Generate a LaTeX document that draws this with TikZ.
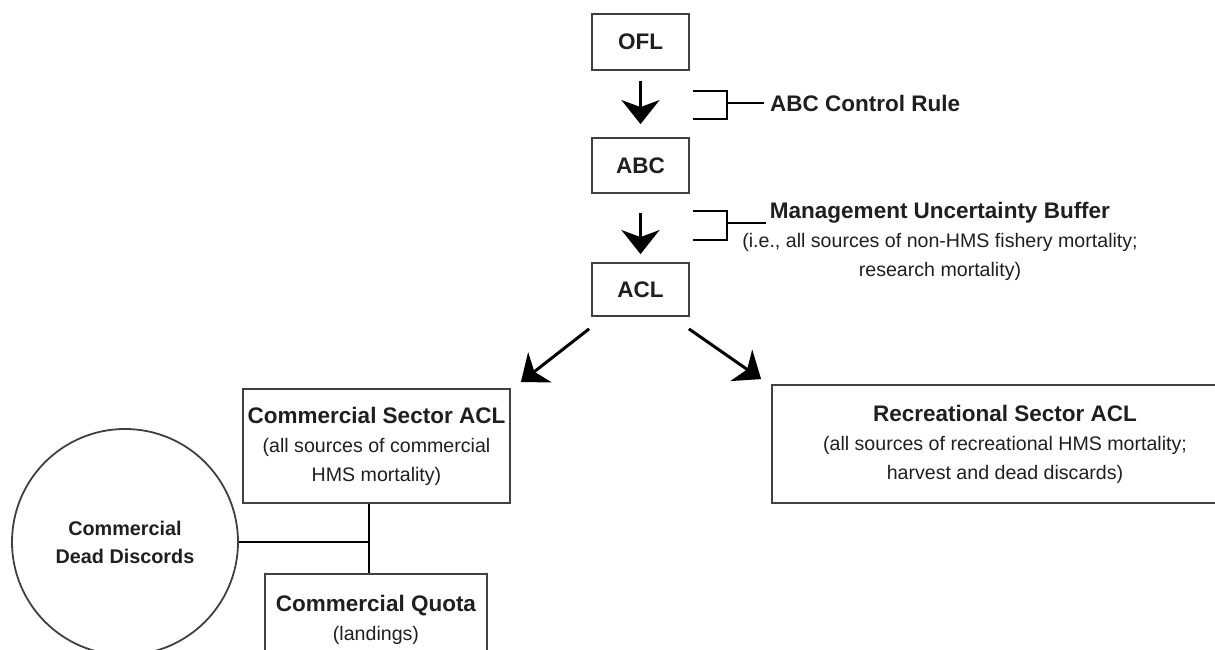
\documentclass[tikz,border=0pt]{standalone}
\usepackage{fontspec}
\setmainfont{Liberation Sans}
\usetikzlibrary{arrows.meta}
\begin{document}
\begin{tikzpicture}[x=1pt,y=-1pt,
  every node/.style={text=black!88},
  bigfont/.style={font=\fontsize{22.5}{29}\selectfont\bfseries},
  box/.style={draw=black!75, line width=1.8pt, rectangle, align=center, inner sep=0pt},
  flow/.style={line width=3pt, -{Stealth[length=24pt,width=38pt,inset=7pt]}},
  brk/.style={line width=2.8pt, black},
  lnk/.style={line width=2.8pt, black}]
\useasboundingbox (0,0) rectangle (1215,650);
\clip (0,0) rectangle (1215,650);
\newcommand{\rg}{\fontsize{19.6}{29}\selectfont\mdseries}
% top column
\node[box, bigfont, minimum width=97pt, minimum height=56pt] (ofl) at (640.5,42) {OFL};
\node[box, bigfont, minimum width=97pt, minimum height=55pt] (abc) at (640.5,165.5) {ABC};
\node[box, bigfont, minimum width=97pt, minimum height=53pt] (acl) at (640.5,289.5) {ACL};
\draw[flow, shorten <=10pt, shorten >=13pt] (ofl) -- (abc);
\draw[flow, shorten <=19pt, shorten >=8pt] (abc) -- (acl);
% bracket labels
\node[bigfont, anchor=west, inner sep=0pt] (rule) at (770,103) {ABC Control Rule};
\draw[brk] (693,91) -- (727,91) -- (727,119) -- (693,119);
\draw[brk, shorten >=6pt] (727,103) -- (rule.west);
\node[bigfont, align=center, inner sep=0pt] (mub) at (940,241)
  {Management Uncertainty Buffer\\ {\rg (i.e., all sources of non-HMS fishery mortality;}\\ {\rg research mortality)}};
\coordinate (mstem) at (766,223);
\draw[brk] (693,211) -- (727,211) -- (727,240) -- (693,240);
\draw[brk] (727,223) -- (mstem);
% sectors
\node[box, bigfont, minimum width=267pt, minimum height=114pt] (com) at (376.5,446)
  {Commercial Sector ACL\\ {\rg (all sources of commercial}\\ {\rg HMS mortality)}};
\node[box, bigfont, minimum width=466pt, minimum height=118pt] (rec) at (1005,444)
  {Recreational Sector ACL\\ {\rg (all sources of recreational HMS mortality;}\\ {\rg harvest and dead discards)}};
\draw[flow] ([shift={(-2,12)}]acl.south west) -- ([shift={(10,-6)}]com.north east);
\draw[flow] ([shift={(-1,12)}]acl.south east) -- ([shift={(-10,-5)}]rec.north west);
% commercial breakdown
\node[box, bigfont, minimum width=222pt, anchor=north, inner ysep=21pt] (quota) at (376,573)
  {Commercial Quota\\ {\rg (landings)}};
\node[draw=black!75, line width=1.8pt, circle, minimum size=226pt, inner sep=0pt, align=center,
  font=\fontsize{19.8}{28}\selectfont\bfseries] (dd) at (125,542) {Commercial\\Dead Discords};
\coordinate (j) at (369,542);
\draw[lnk] (com.south -| j) -- (quota.north -| j);
\draw[lnk] (dd.east) -- (j);
\end{tikzpicture}
\end{document}
